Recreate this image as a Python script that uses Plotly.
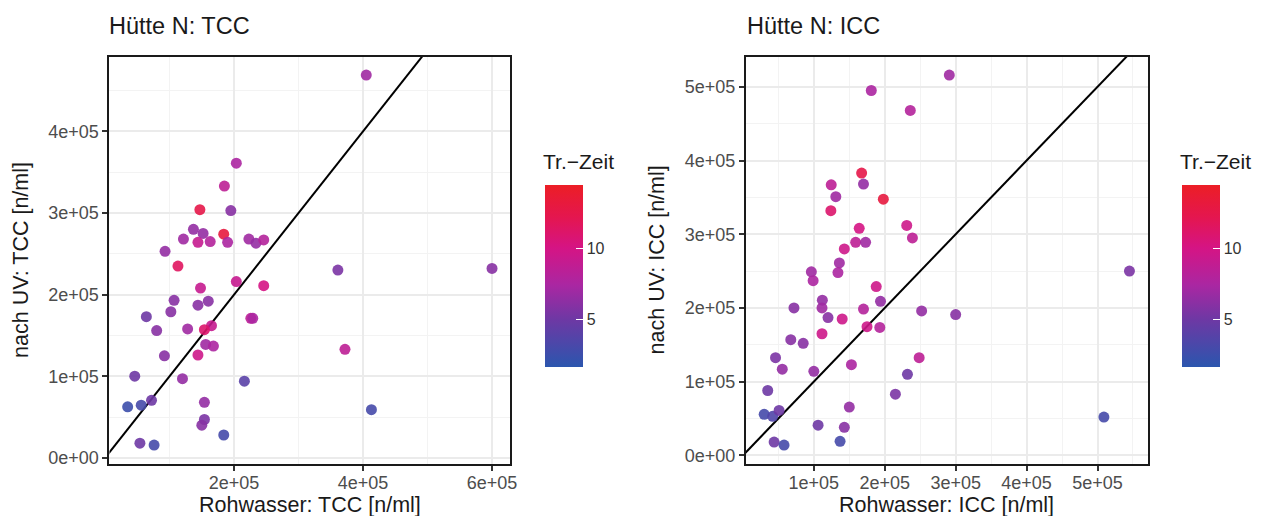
import plotly.graph_objects as go

# ---------------- data ----------------
# Left panel: TCC
tcc_roh = [203500, 185000, 147000, 195000, 137000, 152000, 121500, 144000, 163000, 184000,
           190000, 223000, 234000, 246000, 93000, 113000, 203500, 246000, 148000, 107000,
           160000, 144000, 102000, 64000, 80000, 128000, 165000, 154000, 226000, 229000,
           156000, 168000, 144000, 92000, 46000, 120000, 216000, 35000, 56000, 72000,
           154000, 154000, 150000, 184000, 54000, 76000, 405000, 361000, 372000, 413000,
           600000]
tcc_uv = [361000, 333000, 304000, 303000, 280000, 275000, 268000, 264000, 265000, 274000,
          264000, 268000, 263000, 267000, 253000, 235000, 216000, 211000, 208000, 193000,
          192000, 187000, 179000, 173000, 156000, 158000, 162000, 157000, 171000, 171000,
          139000, 137000, 126000, 125000, 100000, 97000, 94000, 62500, 64500, 70500,
          68000, 47000, 40000, 28000, 18000, 15700, 469000, 230000, 133000, 59000,
          232000]
tcc_zeit = [7.5, 8.5, 12.5, 6, 6.5, 6.5, 7, 9, 8, 13,
            7.5, 7, 6.5, 8, 6.5, 11.5, 9, 10, 9, 6,
            6, 6, 6, 5, 6, 7, 9, 11, 8.5, 7.5,
            7, 7.5, 9.5, 6, 5, 6.5, 4, 2.5, 3, 5,
            6.5, 5.5, 6, 3, 5, 3, 7, 5.5, 8.5, 3,
            6]

# Right panel: ICC
icc_roh = [167400, 170000, 124500, 131000, 124000, 198000, 231000, 239000, 164000, 159000,
           173000, 143000, 136000, 134000, 96500, 99000, 188000, 194000, 112000, 72000,
           111500, 170000, 252000, 300000, 120000, 140000, 111500, 175000, 193000, 67500,
           85000, 46000, 55500, 100000, 153000, 248500, 232000, 215000, 35000, 30000,
           42000, 51000, 150000, 106000, 143000, 137000, 44000, 58000, 181000, 291000,
           236000, 545000, 509000]
icc_uv = [383000, 368000, 367000, 351000, 332000, 347500, 312000, 295000, 308000, 289000,
          289000, 280000, 261000, 248000, 249000, 237000, 229000, 209000, 210500, 200000,
          200000, 198500, 196000, 191000, 187000, 185000, 165000, 174500, 173500, 157000,
          152000, 132500, 117000, 114000, 123000, 132500, 110000, 83000, 88000, 55700,
          53000, 61000, 65500, 41000, 38000, 19000, 18000, 14000, 495000, 516000,
          468000, 250000, 52000]
icc_zeit = [12.5, 6.5, 8.5, 7, 11, 13, 9.5, 8.5, 10, 8.5,
            7, 9.5, 7, 7.5, 7, 7.5, 9.5, 6.5, 6.5, 6,
            7, 8, 6.5, 6, 6, 9.5, 9.5, 9.5, 8, 6,
            6, 5.5, 6.5, 6.5, 7.5, 8.5, 5, 5.5, 5, 3,
            3.5, 5, 6.5, 5, 6, 3, 5, 3, 7.5, 7,
            8, 5.5, 3]

# Tick labels
tcc_x_ticks = [200000, 400000, 600000]
tcc_x_labels = ["2e+05", "4e+05", "6e+05"]
tcc_y_ticks = [0, 100000, 200000, 300000, 400000]
tcc_y_labels = ["0e+00", "1e+05", "2e+05", "3e+05", "4e+05"]
icc_x_ticks = [100000, 200000, 300000, 400000, 500000]
icc_x_labels = ["1e+05", "2e+05", "3e+05", "4e+05", "5e+05"]
icc_y_ticks = [0, 100000, 200000, 300000, 400000, 500000]
icc_y_labels = ["0e+00", "1e+05", "2e+05", "3e+05", "4e+05", "5e+05"]
zeit_ticks = [5, 10]
zeit_limits = [1.65, 14.4]

# Reference line y = intercept + slope * x
line_slope = 1.0
line_intercept = 0.0

# ---------------- styling ----------------
W, H = 1274, 516
FONT = "Liberation Sans, Arial, sans-serif"
TICK_COL = "#4D4D4D"
colorscale = [
    [0.0, "#2B56AE"],
    [0.263, "#6E38A4"],
    [0.45, "#AA27A2"],
    [0.655, "#D51484"],
    [0.82, "#E41650"],
    [1.0, "#EC1E25"],
]


def expand(vals, mult=0.05):
    lo, hi = min(vals), max(vals)
    d = (hi - lo) * mult
    return [lo - d, hi + d]


def px_x(p):
    return p / W


def px_y(p):
    return 1 - p / H


fig = go.Figure()

panels = [
    (tcc_roh, tcc_uv, tcc_zeit, "x", "y", "coloraxis"),
    (icc_roh, icc_uv, icc_zeit, "x2", "y2", "coloraxis2"),
]

for xs, ys, cs, xa, ya, ca in panels:
    xr = expand(xs)
    x_line = [xr[0] - 1e5, xr[1] + 1e5]
    fig.add_trace(go.Scatter(
        x=x_line,
        y=[line_intercept + line_slope * v for v in x_line],
        mode="lines", line=dict(color="black", width=2),
        xaxis=xa, yaxis=ya, showlegend=False, hoverinfo="skip",
    ))
    fig.add_trace(go.Scatter(
        x=xs, y=ys, mode="markers",
        marker=dict(size=11, color=cs, coloraxis=ca, opacity=0.9, line=dict(width=0)),
        xaxis=xa, yaxis=ya, showlegend=False,
    ))

ax_common = dict(
    showline=True, mirror=True, linecolor="#1A1A1A", linewidth=2,
    ticks="outside", ticklen=5, tickcolor="#333333", tickwidth=1.5,
    showgrid=True, gridcolor="#EBEBEB", gridwidth=1.8,
    zeroline=False,
    tickfont=dict(family=FONT, size=18, color=TICK_COL),
    tickmode="array",
)


def minor(d):
    return dict(tickmode="linear", tick0=0, dtick=d, showgrid=True,
                gridcolor="#F3F3F3", gridwidth=1, ticks="")


y_top, y_bot = px_y(49), px_y(460)

fig.update_layout(
    width=W, height=H,
    paper_bgcolor="white", plot_bgcolor="white",
    margin=dict(l=0, r=0, t=0, b=0),
    font=dict(family=FONT, color="#1A1A1A"),
    xaxis=dict(ax_common, domain=[px_x(102), px_x(505)], range=expand(tcc_roh),
               tickvals=tcc_x_ticks, ticktext=tcc_x_labels, anchor="y",
               minor=minor(100000), ticklabelstandoff=-3),
    yaxis=dict(ax_common, domain=[y_bot, y_top], range=expand(tcc_uv),
               tickvals=tcc_y_ticks, ticktext=tcc_y_labels, anchor="x", minor=minor(50000)),
    xaxis2=dict(ax_common, domain=[px_x(742), px_x(1146)], range=expand(icc_roh),
                tickvals=icc_x_ticks, ticktext=icc_x_labels, anchor="y2",
                minor=minor(50000), ticklabelstandoff=-3),
    yaxis2=dict(ax_common, domain=[y_bot, y_top], range=expand(icc_uv),
                tickvals=icc_y_ticks, ticktext=icc_y_labels, anchor="x2", minor=minor(50000)),
)

cb_common = dict(
    xanchor="left", y=px_y(271), yanchor="middle",
    len=182, lenmode="pixels", thickness=38, thicknessmode="pixels",
    outlinewidth=0, xpad=0, ypad=0,
    tickmode="array", tickvals=zeit_ticks,
    ticks="inside", ticklen=7, tickcolor="white", tickwidth=1,
    tickfont=dict(family=FONT, size=16, color="#333333"),
    title=dict(text=""),
)

fig.update_layout(
    coloraxis=dict(colorscale=colorscale, cmin=zeit_limits[0], cmax=zeit_limits[1],
                   colorbar=dict(cb_common, x=px_x(540))),
    coloraxis2=dict(colorscale=colorscale, cmin=zeit_limits[0], cmax=zeit_limits[1],
                    colorbar=dict(cb_common, x=px_x(1180))),
)

ann = []
for x0, title in [(100, "Hütte N: TCC"), (741, "Hütte N: ICC")]:
    ann.append(dict(x=px_x(x0), y=px_y(18), xref="paper", yref="paper", text=title,
                    showarrow=False, xanchor="left", yanchor="middle",
                    font=dict(family=FONT, size=23.5, color="#1A1A1A")))
for xc, title in [(303.5, "Rohwasser: TCC [n/ml]"), (944, "Rohwasser: ICC [n/ml]")]:
    ann.append(dict(x=px_x(xc), y=px_y(502), xref="paper", yref="paper", text=title,
                    showarrow=False, xanchor="center", yanchor="middle",
                    font=dict(family=FONT, size=21.5, color="#1A1A1A")))
for xc, title in [(13, "nach UV: TCC [n/ml]"), (653, "nach UV: ICC [n/ml]")]:
    ann.append(dict(x=px_x(xc), y=px_y(254.5), xref="paper", yref="paper", text=title,
                    showarrow=False, xanchor="center", yanchor="middle", textangle=-90,
                    font=dict(family=FONT, size=21.5, color="#1A1A1A")))
for x0 in [536, 1176]:
    ann.append(dict(x=px_x(x0), y=px_y(155), xref="paper", yref="paper", text="Tr.\u2212Zeit",
                    showarrow=False, xanchor="left", yanchor="middle",
                    font=dict(family=FONT, size=21, color="#1A1A1A")))
fig.update_layout(annotations=ann)

fig.write_html("out.html")
